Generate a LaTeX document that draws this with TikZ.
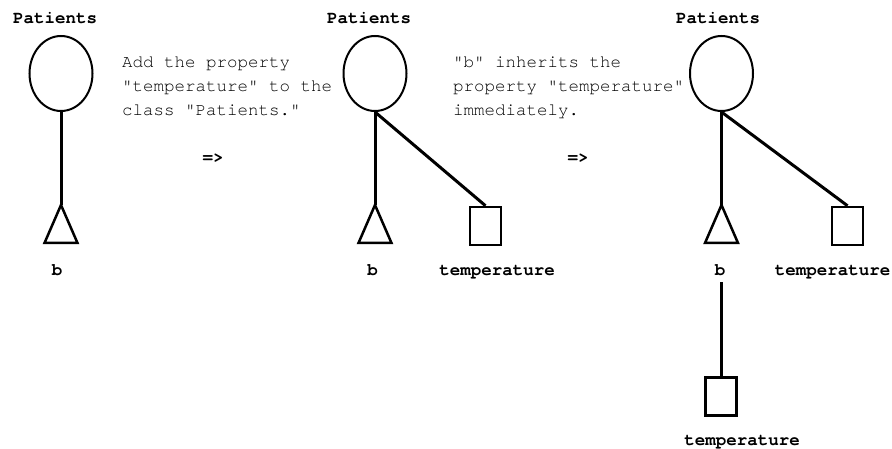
\documentclass[tikz,border=0pt]{standalone}
\usepackage{fontspec}
\setmonofont{TeX Gyre Cursor}
\usetikzlibrary{shapes.geometric}
\begin{document}
\begin{tikzpicture}[x=1pt,y=-1pt,
  lbl/.style={font=\ttfamily\bfseries\fontsize{17.5}{20}\selectfont, inner sep=3pt, text height=11pt, text depth=0pt},
  desc/.style={font=\ttfamily\fontsize{17.5}{24}\selectfont, align=left, anchor=north west, inner sep=0pt},
  cls/.style={draw, ellipse, line width=2pt, minimum width=63pt, minimum height=75pt, inner sep=0pt},
  prop/.style={draw, rectangle, line width=2.5pt, minimum width=31pt, minimum height=38pt, inner sep=0pt},
  link/.style={line width=3pt},
  tri/.style={line width=2.5pt}]
\useasboundingbox (0,0) rectangle (892,449);

% ---- panel 1
\node[lbl] (p1) at (55,18) {Patients};
\node[cls] (e1) at (61,73.5) {};
\coordinate (t1) at (61,205);
\draw[tri] (t1) -- ++(16.5,38) -- ++(-33,0) -- cycle;
\draw[link] (e1.south) -- (t1);
\node[lbl] (b1) at (57,270) {b};
\node[desc] (d1) at (122,57) {Add the property\\"temperature" to the\\class "Patients."};
\node[lbl] (a1) at (213,157) {=>};

% ---- panel 2
\node[lbl] (p2) at (369,18) {Patients};
\node[cls] (e2) at (375,73.5) {};
\coordinate (t2) at (375,205);
\draw[tri] (t2) -- ++(16.5,38) -- ++(-33,0) -- cycle;
\node[prop] (s2) at (485.5,226) {};
\draw[link] (e2.south) -- (t2);
\draw[link] (e2.south) -- (s2.north);
\node[lbl] (b2) at (372.5,270) {b};
\node[lbl] (tp2) at (497,270) {temperature};
\node[desc] (d2) at (453,57) {"b" inherits the\\property "temperature"\\immediately.};
\node[lbl] (a2) at (578,157) {=>};

% ---- panel 3
\node[lbl] (p3) at (718,18) {Patients};
\node[cls] (e3) at (721.5,73.5) {};
\coordinate (t3) at (721.5,205);
\draw[tri] (t3) -- ++(16.5,38) -- ++(-33,0) -- cycle;
\node[prop] (s3) at (847.5,226) {};
\draw[link] (e3.south) -- (t3);
\draw[link] (e3.south) -- (s3.north);
\node[lbl, inner ysep=6.5pt] (b3) at (720,270) {b};
\node[lbl] (tp3) at (832.5,270) {temperature};
\node[prop] (s4) at (721,396.5) {};
\draw[link] (b3.south -| s4.north) -- (s4.north);
\node[lbl] (tp4) at (742,440) {temperature};
\end{tikzpicture}
\end{document}
